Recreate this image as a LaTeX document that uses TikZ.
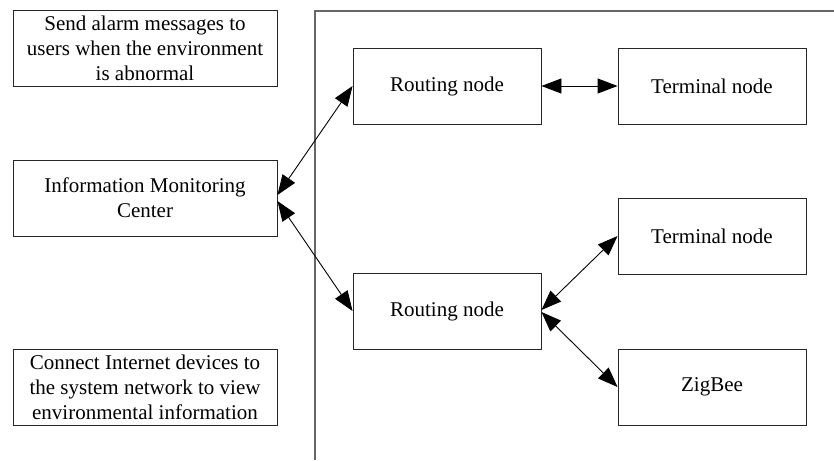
\documentclass[tikz,border=0pt]{standalone}
\usepackage{fontspec}
\setmainfont{Liberation Serif}
\usetikzlibrary{arrows.meta}
\begin{document}
\begin{tikzpicture}[x=1pt,y=-1pt,
  box/.style={draw=black!85,line width=0.9pt,minimum width=188pt,minimum height=76pt,
    inner sep=0pt,align=center,font=\fontsize{21}{25}\selectfont},
  widebox/.style={box,minimum width=264pt},
  link/.style={line width=0.9pt,{Triangle[length=20pt,width=15pt]}-{Triangle[length=20pt,width=15pt]}},
  divider/.style={draw=black!60,line width=1.6pt}]
\useasboundingbox (0,0) rectangle (834,460);
% left column
\node[widebox] (alarm) at (145,48) {Send alarm messages to\\users when the environment\\is abnormal};
\node[widebox] (imc) at (145,198) {Information Monitoring\\Center};
\node[widebox] (inet) at (145,387) {Connect Internet devices to\\the system network to view\\environmental information};
% network region
\draw[divider] (315,460) -- (315,11) -- (834,11);
\node[box] (r1) at (447,86) {Routing node};
\node[box] (t1) at (712,86) {Terminal node};
\node[box] (t2) at (712,236) {Terminal node};
\node[box] (r2) at (447,311) {Routing node};
\node[box] (zb) at (712,387) {ZigBee};
% links
\draw[link] (r1.east) -- (t1.west);
\draw[link] ([yshift=3pt]imc.east) -- (r1.west);
\draw[link] ([yshift=-3pt]imc.east) -- (r2.west);
\draw[link] ([yshift=1pt]r2.east) -- (t2.west);
\draw[link] ([yshift=-1pt]r2.east) -- (zb.west);
\end{tikzpicture}
\end{document}
